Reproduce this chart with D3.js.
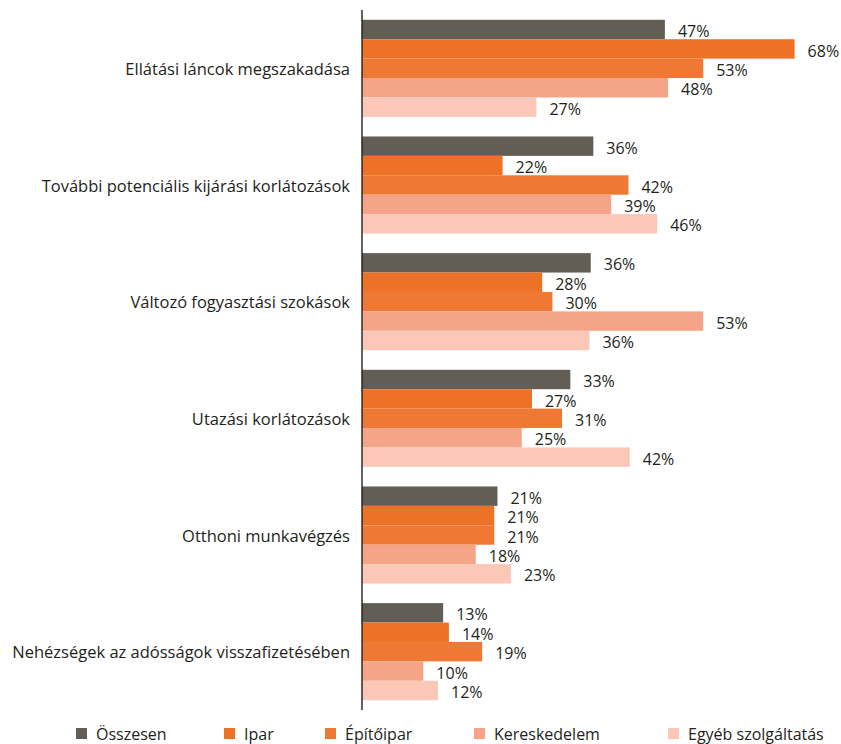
<!DOCTYPE html>
<html>
<head>
<meta charset="utf-8">
<script src="https://cdn.jsdelivr.net/npm/d3@7"></script>
<style>
    body { margin: 0; background: #fff; }
    text { font-family: "Open Sans", sans-serif; fill: #231f20; }
</style>
</head>
<body>
<svg width="841" height="744"></svg>
<script>
// categories and series
let categories = ["Ellátási láncok megszakadása", "További potenciális kijárási korlátozások",
    "Változó fogyasztási szokások", "Utazási korlátozások", "Otthoni munkavégzés",
    "Nehézségek az adósságok visszafizetésében"];
let seriesNames = ["Összesen", "Ipar", "Építőipar", "Kereskedelem", "Egyéb szolgáltatás"];

// values in %
let osszesen = [47.4, 36.2, 35.8, 32.6, 21.2, 12.7];
let ipar = [67.7, 22.0, 28.2, 26.6, 20.7, 13.6];
let epitoipar = [53.4, 41.7, 29.8, 31.3, 20.7, 18.8];
let kereskedelem = [47.9, 39.0, 53.4, 25.0, 17.8, 9.6];
let egyeb = [27.3, 46.2, 35.6, 41.9, 23.3, 11.9];

let colors = ["#625d55", "#ee7128", "#ef7934", "#f5a488", "#fbc7b7"];

let svg = d3.select("svg");
let x0 = 362;

let allSeries = [osszesen, ipar, epitoipar, kereskedelem, egyeb];
let data = categories.map(function (c, i) {
    return {
        category: c,
        values: seriesNames.map(function (s, j) { return { key: s, idx: j, value: allSeries[j][i] }; })
    };
});

let xScale = d3.scaleLinear()
    .domain([0, 70])
    .range([x0, x0 + 70 * 6.39]);

let yScale = d3.scaleBand()
    .domain(categories)
    .range([10, 710])
    .paddingInner(0.168)
    .paddingOuter(0.084);

let ySub = d3.scaleBand()
    .domain(seriesNames)
    .range([0, yScale.bandwidth()]);

let fmt = d3.format(".0f");

// groups
let groups = svg.selectAll(".group")
    .data(data)
    .enter().append("g")
    .attr("class", "group")
    .attr("transform", d => "translate(0," + yScale(d.category) + ")");

groups.selectAll("rect")
    .data(d => d.values)
    .enter().append("rect")
    .attr("x", xScale(0))
    .attr("y", d => ySub(d.key))
    .attr("width", d => xScale(d.value) - xScale(0))
    .attr("height", ySub.bandwidth())
    .attr("fill", d => colors[d.idx]);

groups.selectAll(".val")
    .data(d => d.values)
    .enter().append("text")
    .attr("class", "val")
    .attr("x", d => xScale(d.value) + 13)
    .attr("y", d => ySub(d.key) + ySub.bandwidth() / 2 + 7.6)
    .style("font-size", "16px")
    .text(d => fmt(d.value) + "%");

// category labels
svg.selectAll(".cat")
    .data(categories)
    .enter().append("text")
    .attr("class", "cat")
    .attr("x", x0 - 12)
    .attr("y", d => yScale(d) + yScale.bandwidth() / 2 + 6.5)
    .style("text-anchor", "end")
    .style("font-size", "16.5px")
    .text(d => d);

// vertical axis line
svg.append("line")
    .attr("x1", x0).attr("x2", x0)
    .attr("y1", 10).attr("y2", 710)
    .attr("stroke", "#231f20")
    .attr("stroke-width", 1.4);

// legend
let legendX = [76, 224, 325, 474, 668];
let legend = svg.selectAll(".legend")
    .data(seriesNames)
    .enter().append("g")
    .attr("class", "legend")
    .attr("transform", (d, i) => "translate(" + legendX[i] + ",728)");

legend.append("rect")
    .attr("width", 11)
    .attr("height", 11)
    .attr("fill", (d, i) => colors[i]);

legend.append("text")
    .attr("x", 20)
    .attr("y", 12)
    .style("font-size", "16px")
    .text(d => d);
</script>
</body>
</html>
